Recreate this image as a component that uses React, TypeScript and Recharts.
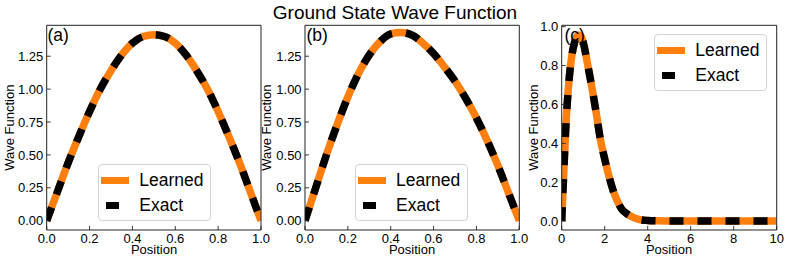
import React from 'react';
import { LineChart, Line, XAxis, YAxis, Legend } from 'recharts';

// ---------- data ----------
const positionsA = [0, 0.05, 0.1, 0.15, 0.2, 0.25, 0.3, 0.35, 0.4, 0.45, 0.5, 0.55, 0.6, 0.65, 0.7, 0.75, 0.8, 0.85, 0.9, 0.95, 1.0];
const learnedA = [0, 0.22, 0.44, 0.64, 0.83, 1.0, 1.14, 1.26, 1.35, 1.40, 1.414, 1.40, 1.35, 1.26, 1.14, 1.0, 0.83, 0.64, 0.44, 0.22, 0];
const exactA = [0, 0.22, 0.44, 0.64, 0.83, 1.0, 1.14, 1.26, 1.35, 1.40, 1.414, 1.40, 1.35, 1.26, 1.14, 1.0, 0.83, 0.64, 0.44, 0.22, 0];

const positionsB = [0, 0.05, 0.1, 0.15, 0.2, 0.25, 0.3, 0.35, 0.4, 0.45, 0.5, 0.55, 0.6, 0.65, 0.7, 0.75, 0.8, 0.85, 0.9, 0.95, 1.0];
const learnedB = [0, 0.25, 0.5, 0.73, 0.94, 1.12, 1.26, 1.36, 1.42, 1.43, 1.41, 1.35, 1.27, 1.17, 1.06, 0.93, 0.78, 0.61, 0.42, 0.21, 0];
const exactB = [0, 0.25, 0.5, 0.73, 0.94, 1.12, 1.26, 1.36, 1.42, 1.43, 1.41, 1.35, 1.27, 1.17, 1.06, 0.93, 0.78, 0.61, 0.42, 0.21, 0];

const positionsC = [0, 0.1, 0.2, 0.3, 0.4, 0.5, 0.6, 0.7, 0.8, 0.9, 1.0, 1.2, 1.4, 1.6, 1.8, 2.0, 2.2, 2.4, 2.6, 2.8, 3.0, 3.3, 3.6, 4.0, 4.5, 5, 6, 7, 8, 9, 10];
const learnedC = [0, 0.26, 0.5, 0.67, 0.79, 0.87, 0.92, 0.95, 0.957, 0.95, 0.92, 0.81, 0.69, 0.56, 0.42, 0.32, 0.23, 0.155, 0.1, 0.06, 0.04, 0.02, 0.008, 0.003, 0.001, 0, 0, 0, 0, 0, 0];
const exactC = [0, 0.26, 0.5, 0.67, 0.79, 0.87, 0.92, 0.95, 0.957, 0.95, 0.92, 0.81, 0.69, 0.56, 0.42, 0.32, 0.23, 0.155, 0.1, 0.06, 0.04, 0.02, 0.008, 0.003, 0.001, 0, 0, 0, 0, 0, 0];

const yTicksAB = [0, 0.25, 0.5, 0.75, 1.0, 1.25];
const xTicksAB = [0, 0.2, 0.4, 0.6, 0.8, 1.0];
const yTicksC = [0, 0.2, 0.4, 0.6, 0.8, 1.0];
const xTicksC = [0, 2, 4, 6, 8, 10];

const seriesNames = ['Learned', 'Exact'];
const seriesColors = ['#ff7f0e', '#000000'];
const titleText = 'Ground State Wave Function';
const panelLabels = ['(a)', '(b)', '(c)'];
const xLabel = 'Position';
const yLabel = 'Wave Function';

const FONT = '"Liberation Sans", Arial, Helvetica, sans-serif';

const build = (xs: number[], l: number[], e: number[]) =>
  xs.map((x, i) => ({ x, learned: l[i], exact: e[i] }));

const LegendContent = () => (
  <div
    style={{
      position: 'relative',
      width: 113,
      height: 57,
      boxSizing: 'border-box',
      background: 'rgba(255,255,255,0.8)',
      border: '1px solid #d4d4d4',
      borderRadius: 4,
      fontFamily: FONT,
      fontSize: 17.5,
      color: '#000',
    }}
  >
    {seriesNames.map((name, i) => (
      <div key={name} style={{ position: 'absolute', left: 0, top: i === 0 ? 5 : 30, height: 21, width: 113 }}>
        {i === 0 ? (
          <div style={{ position: 'absolute', left: 2, top: 6.5, width: 28, height: 7.5, background: seriesColors[0] }} />
        ) : (
          <div style={{ position: 'absolute', left: 7, top: 6.5, width: 13, height: 7.5, background: seriesColors[1] }} />
        )}
        <div style={{ position: 'absolute', left: 40, top: 0, lineHeight: '21px', whiteSpace: 'nowrap' }}>{name}</div>
      </div>
    ))}
  </div>
);

type PanelProps = {
  data: { x: number; learned: number; exact: number }[];
  chartLeft: number;
  plotLeft: number;
  plotRight: number;
  xDomain: [number, number];
  yDomain: [number, number];
  xTicks: number[];
  yTicks: number[];
  xFmt: (v: number) => string;
  yFmt: (v: number) => string;
  legendLeft: number;
  legendTop: number;
};

const PLOT_TOP = 25.3;
const PLOT_BOTTOM = 230;
const H = 259;

const Panel = (p: PanelProps) => {
  const yW = p.plotLeft - p.chartLeft;
  const rightM = 13;
  const width = p.plotRight - p.chartLeft + rightM + 1;
  const tickStyle = { fontFamily: FONT, fontSize: 13, fill: '#000' };
  const axisLine = { stroke: '#222', strokeWidth: 1 };
  const tickLine = { stroke: '#222', strokeWidth: 0.9 };
  return (
    <div style={{ position: 'absolute', left: p.chartLeft, top: 0, width, height: H }}>
      <LineChart
        width={width}
        height={H}
        data={p.data}
        margin={{ top: PLOT_TOP - 1, right: rightM, bottom: 0, left: 0 }}
      >
        <XAxis
          dataKey="x"
          type="number"
          domain={p.xDomain}
          allowDataOverflow
          ticks={p.xTicks}
          tickFormatter={p.xFmt}
          height={H - PLOT_BOTTOM}
          tick={tickStyle}
          tickSize={-4}
          tickMargin={8}
          axisLine={axisLine}
          tickLine={tickLine}
          interval={0}
        />
        <XAxis
          xAxisId="top"
          orientation="top"
          dataKey="x"
          type="number"
          domain={p.xDomain}
          allowDataOverflow
          ticks={p.xTicks}
          height={1}
          tick={false}
          tickLine={false}
          axisLine={axisLine}
        />
        <YAxis
          type="number"
          domain={p.yDomain}
          allowDataOverflow
          ticks={p.yTicks}
          tickFormatter={p.yFmt}
          width={yW}
          tick={tickStyle}
          tickSize={-4}
          tickMargin={7.4}
          axisLine={axisLine}
          tickLine={tickLine}
          interval={0}
        />
        <YAxis
          yAxisId="right"
          orientation="right"
          type="number"
          domain={p.yDomain}
          allowDataOverflow
          ticks={p.yTicks}
          width={1}
          tick={false}
          tickSize={-4}
          axisLine={axisLine}
          tickLine={tickLine}
          interval={0}
        />
        <Line
          type="monotone"
          dataKey="learned"
          name={seriesNames[0]}
          stroke={seriesColors[0]}
          strokeWidth={7.5}
          dot={false}
          isAnimationActive={false}
        />
        <Line
          type="monotone"
          xAxisId="top"
          yAxisId="right"
          dataKey="exact"
          name={seriesNames[1]}
          stroke={seriesColors[1]}
          strokeWidth={7.5}
          strokeDasharray="14 14"
          strokeLinecap="butt"
          dot={false}
          isAnimationActive={false}
        />
        <Legend
          layout="vertical"
          align="center"
          verticalAlign="middle"
          content={<LegendContent />}
          wrapperStyle={{ left: p.legendLeft - p.chartLeft, top: p.legendTop, width: 113, height: 57 }}
        />
      </LineChart>
    </div>
  );
};

const f2 = (v: number) => v.toFixed(2);
const f1 = (v: number) => v.toFixed(1);
const f0 = (v: number) => String(v);

export default function App() {
  return (
    <div style={{ position: 'absolute', left: 0, top: 0, width: 789, height: 259, background: '#fff', overflow: 'hidden' }}>
      <Panel
        data={build(positionsA, learnedA, exactA)}
        chartLeft={0}
        plotLeft={46.7}
        plotRight={261}
        xDomain={[0, 1]}
        yDomain={[-0.0707, 1.485]}
        xTicks={xTicksAB}
        yTicks={yTicksAB}
        xFmt={f1}
        yFmt={f2}
        legendLeft={98.3}
        legendTop={164}
      />
      <Panel
        data={build(positionsB, learnedB, exactB)}
        chartLeft={262}
        plotLeft={305}
        plotRight={519.3}
        xDomain={[0, 1]}
        yDomain={[-0.0707, 1.485]}
        xTicks={xTicksAB}
        yTicks={yTicksAB}
        xFmt={f1}
        yFmt={f2}
        legendLeft={355}
        legendTop={164}
      />
      <Panel
        data={build(positionsC, learnedC, exactC)}
        chartLeft={522}
        plotLeft={561.7}
        plotRight={776.7}
        xDomain={[0, 10]}
        yDomain={[-0.046, 1.007]}
        xTicks={xTicksC}
        yTicks={yTicksC}
        xFmt={f0}
        yFmt={f1}
        legendLeft={654.3}
        legendTop={34}
      />
      <svg width={789} height={259} style={{ position: 'absolute', left: 0, top: 0, pointerEvents: 'none' }}>
        <text x={395} y={18.5} textAnchor="middle" fontFamily={FONT} fontSize={19} fill="#000">{titleText}</text>
        <text x={47.5} y={41} fontFamily={FONT} fontSize={17.5} fill="#000">{panelLabels[0]}</text>
        <text x={306.5} y={41} fontFamily={FONT} fontSize={17.5} fill="#000">{panelLabels[1]}</text>
        <text x={564.5} y={41} fontFamily={FONT} fontSize={17.5} fill="#000">{panelLabels[2]}</text>
        {[154, 412, 669].map((cx) => (
          <text key={'xl' + cx} x={cx} y={253.5} textAnchor="middle" fontFamily={FONT} fontSize={13} fill="#000">{xLabel}</text>
        ))}
        {[14.5, 271.5, 538].map((bx) => (
          <text key={'yl' + bx} x={bx} y={127.7} textAnchor="middle" fontFamily={FONT} fontSize={13} fill="#000" transform={`rotate(-90 ${bx} 127.7)`}>{yLabel}</text>
        ))}
      </svg>
    </div>
  );
}
